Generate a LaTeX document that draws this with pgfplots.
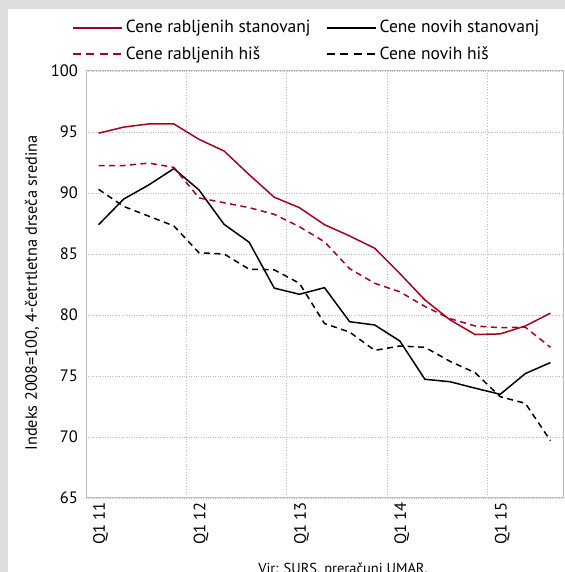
\documentclass[border=0pt]{standalone}
\usepackage{fontspec}
\setmainfont{PT Sans}
\usepackage{pgfplots}
\usepackage{pgfplotstable}
\pgfplotsset{compat=1.18}
\definecolor{bg}{RGB}{220,221,223}
\definecolor{myred}{RGB}{166,0,33}
\definecolor{axgray}{RGB}{191,191,191}
\pgfplotsset{
  legred/.style={legend image code/.code={\draw[myred, solid, line width=2bp] (0bp,0bp) -- (49bp,0bp);}},
  legblack/.style={legend image code/.code={\draw[black, solid, line width=2bp] (0bp,0bp) -- (49bp,0bp);}},
  legreddash/.style={legend image code/.code={\draw[myred, line width=2bp, dash pattern=on 8bp off 5.5bp] (0bp,0bp) -- (49bp,0bp);}},
  legblackdash/.style={legend image code/.code={\draw[black, line width=2bp, dash pattern=on 8bp off 5.5bp] (0bp,0bp) -- (49bp,0bp);}},
}
\pgfplotstableread{
i rs rh ns nh
0 94.9 92.25 87.4 90.3
1 95.4 92.25 89.5 88.9
2 95.66 92.45 90.66 88.1
3 95.66 92.1 92.0 87.3
4 94.4 89.6 90.25 85.1
5 93.44 89.2 87.43 85.0
6 91.5 88.8 85.96 83.75
7 89.65 88.25 82.2 83.7
8 88.8 87.24 81.7 82.6
9 87.4 86.0 82.24 79.3
10 86.48 83.8 79.45 78.6
11 85.47 82.6 79.18 77.1
12 83.4 81.9 77.87 77.46
13 81.23 80.7 74.73 77.35
14 79.6 79.7 74.53 76.2
15 78.4 79.1 74.0 75.27
16 78.45 78.96 73.5 73.3
17 79.1 79.0 75.2 72.76
18 80.15 77.35 76.1 69.7
}\datatable
\begin{document}
\fontsize{15bp}{17bp}\selectfont
\begin{tikzpicture}[x=1bp,y=1bp]
\fill[bg] (0,0) rectangle (565,572);
\fill[white] (8,0) rectangle (565,563);
\begin{axis}[
  at={(86bp,74bp)}, anchor=south west, scale only axis,
  width=477bp, height=427bp,
  xmin=-0.5, xmax=18.5, ymin=65, ymax=100,
  ytick={65,70,...,100},
  xtick={0,4,8,12,16},
  xticklabels={Q1 11,Q1 12,Q1 13,Q1 14,Q1 15},
  minor xtick={3.5,7.5,11.5,15.5},
  xminorgrids=true, ymajorgrids=true,
  grid style={axgray, dotted, line width=0.8bp},
  minor grid style={axgray, dotted, line width=0.8bp},
  major tick length=0pt, minor tick length=0pt,
  axis line style={axgray, line width=1bp},
  /pgf/number format/assume math mode=true,
  tick label style={font=\fontsize{16.5bp}{18bp}\selectfont, black},
  xticklabel style={rotate=90, anchor=east, xshift=1bp, yshift=-2bp},
  yticklabel style={anchor=east, xshift=-3bp},
  ylabel={Indeks 2008=100, 4-četrtletna drseča sredina},
  ylabel style={at={(axis description cs:-0.113,0.48)}, anchor=center, rotate=0, font=\fontsize{16.3bp}{18bp}\selectfont},
  legend columns=2,
  legend style={at={(axis description cs:-0.03,1.124)}, anchor=north west, draw=none, fill=none,
    font=\fontsize{17.5bp}{19bp}\selectfont, inner sep=0pt, row sep=8bp,
    /tikz/every even column/.append style={column sep=12bp},
    nodes={inner xsep=3bp}},
  legend cell align=left,
  clip=false,
]
\addplot[myred, line width=1.5bp, legred] table[x=i,y=rs] {\datatable};
\addlegendentry{Cene rabljenih stanovanj}
\addplot[black, line width=1.5bp, legblack] table[x=i,y=ns] {\datatable};
\addlegendentry{Cene novih stanovanj}
\addplot[myred, line width=1.5bp, dash pattern=on 6bp off 4.5bp, legreddash] table[x=i,y=rh] {\datatable};
\addlegendentry{Cene rabljenih hiš}
\addplot[black, line width=1.5bp, dash pattern=on 6bp off 4.5bp, legblackdash] table[x=i,y=nh] {\datatable};
\addlegendentry{Cene novih hiš}
\end{axis}
\node[anchor=base, font=\fontsize{14.5bp}{17bp}\selectfont] at (343,-1) {Vir: SURS, preračuni UMAR.};
\pgfresetboundingbox
\useasboundingbox (0,0) rectangle (565,572);
\end{tikzpicture}
\end{document}
